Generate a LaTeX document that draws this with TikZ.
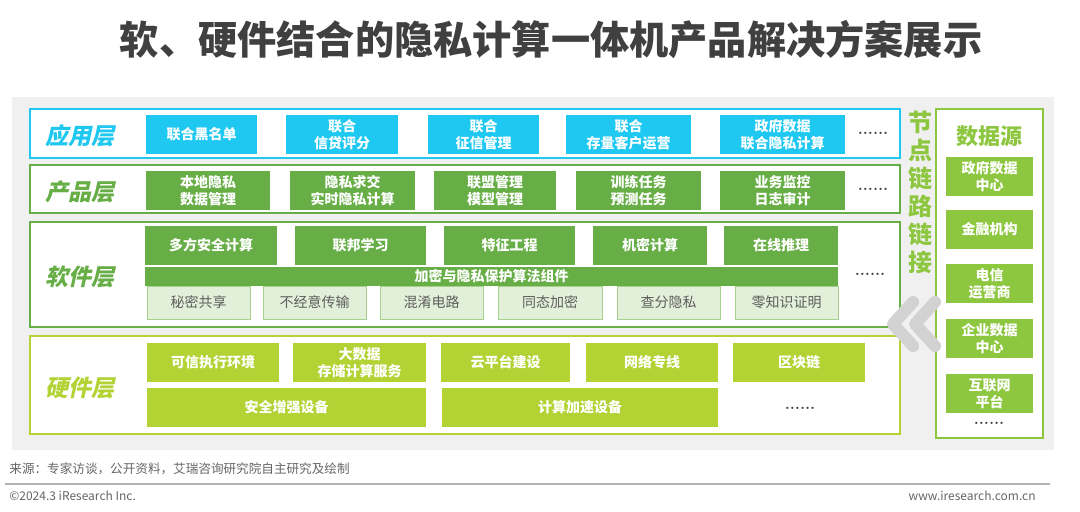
\documentclass[tikz,border=0pt]{standalone}
\usepackage{fontspec}
\newfontfamily\cjk{Noto Sans CJK SC}
\newfontfamily\cjksl[FakeSlant=0.22]{Noto Sans CJK SC}
\definecolor{cyanc}{HTML}{1FC8F1}
\definecolor{grn}{HTML}{66AE45}
\definecolor{lgrn}{HTML}{E2F0D9}
\definecolor{lgrnb}{HTML}{A9D18E}
\definecolor{lime}{HTML}{B3D335}
\definecolor{src}{HTML}{8DC63F}
\definecolor{panel}{HTML}{F0F0F0}
\definecolor{dark}{HTML}{404040}
\definecolor{chev}{HTML}{D2D2D2}
\tikzset{
  base/.style={inner sep=0pt, outer sep=0pt, align=center, text=white,
    font=\cjk\bfseries\fontsize{7}{8.5}\selectfont},
  appbox/.style={base, fill=cyanc},
  prodbox/.style={base, fill=grn},
  lightbox/.style={base, fill=lgrn, draw=lgrnb, line width=0.5pt, text=dark!85,
    font=\cjk\fontsize{7}{8.5}\selectfont},
  hwbox/.style={base, fill=lime},
  srcbox/.style={base, fill=src},
  layer/.style={inner sep=0pt, outer sep=0pt, fill=white, line width=0.9pt},
  laylabel/.style={font=\cjksl\bfseries\fontsize{11.5}{12}\selectfont},
  dots/.style={text=dark, font=\bfseries\fontsize{7}{8}\selectfont},
  chevline/.style={draw=chev, line width=6pt, line cap=round, line join=round},
}
\newcommand\bx[7]{\node[#1, minimum width={(#4-#2)*0.5pt}, minimum height={(#5-#3)*0.5pt}] (#7) at ({(#2+#4)/2},{(#3+#5)/2}) {#6};}
\begin{document}
\begin{tikzpicture}[x=0.5pt,y=-0.5pt]
\useasboundingbox[fill=white] (0,0) rectangle (1080,511);
% title
\node[text=dark, font=\cjk\bfseries\fontsize{19.6}{21}\selectfont] (title) at (551,40) {软、硬件结合的隐私计算一体机产品解决方案展示};
% gray panel
\bx{fill=panel, inner sep=0pt}{12}{97}{1054}{450}{}{panelbg}
% layers
\bx{layer, draw=cyanc}{30}{109}{900}{158}{}{applayer}
\bx{layer, draw=grn}{30}{165}{900}{213}{}{prodlayer}
\bx{layer, draw=grn}{30}{222}{900}{327}{}{swlayer}
\bx{layer, draw=lime}{30}{336}{900}{434}{}{hwlayer}
\node[laylabel, text=cyanc] (lapp) at (80,136) {应用层};
\node[laylabel, text=grn] (lprod) at (80,192) {产品层};
\node[laylabel, text=grn] (lsw) at (80,277) {软件层};
\node[laylabel, text=lime] (lhw) at (80,388) {硬件层};
% application
\bx{appbox}{146}{115}{257}{154}{联合黑名单}{a1}
\bx{appbox}{286}{115}{398}{154}{联合\\信贷评分}{a2}
\bx{appbox}{428}{115}{539}{154}{联合\\征信管理}{a3}
\bx{appbox}{566}{115}{691}{154}{联合\\存量客户运营}{a4}
\bx{appbox}{720}{115}{845}{154}{政府数据\\联合隐私计算}{a5}
\node[dots] (adots) at (873,133) {......};
% product
\bx{prodbox}{146}{171}{270}{210}{本地隐私\\数据管理}{p1}
\bx{prodbox}{290}{171}{415}{210}{隐私求交\\实时隐私计算}{p2}
\bx{prodbox}{434}{171}{556}{210}{联盟管理\\模型管理}{p3}
\bx{prodbox}{576}{171}{701}{210}{训练任务\\预测任务}{p4}
\bx{prodbox}{720}{171}{845}{210}{业务监控\\日志审计}{p5}
\node[dots] (pdots) at (873,189) {......};
% software
\bx{prodbox}{145}{226}{277}{265}{多方安全计算}{s1}
\bx{prodbox}{295}{226}{426}{265}{联邦学习}{s2}
\bx{prodbox}{444}{226}{575}{265}{特征工程}{s3}
\bx{prodbox}{593}{226}{707}{265}{机密计算}{s4}
\bx{prodbox}{724}{226}{838}{265}{在线推理}{s5}
\bx{prodbox}{145}{267}{838}{286}{加密与隐私保护算法组件}{sbar}
\bx{lightbox}{147}{286}{250}{319}{秘密共享}{c1}
\bx{lightbox}{263}{286}{366}{319}{不经意传输}{c2}
\bx{lightbox}{380}{286}{483}{319}{混淆电路}{c3}
\bx{lightbox}{498}{286}{602}{319}{同态加密}{c4}
\bx{lightbox}{617}{286}{720}{319}{查分隐私}{c5}
\bx{lightbox}{735}{286}{838}{319}{零知识证明}{c6}
\node[dots] (sdots) at (870,274) {......};
% hardware
\bx{hwbox}{147}{343}{279}{382}{可信执行环境}{h1}
\bx{hwbox}{293}{343}{426}{382}{大数据\\存储计算服务}{h2}
\bx{hwbox}{441}{343}{570}{382}{云平台建设}{h3}
\bx{hwbox}{586}{343}{718}{382}{网络专线}{h4}
\bx{hwbox}{733}{343}{865}{382}{区块链}{h5}
\bx{hwbox}{147}{388}{426}{427}{安全增强设备}{h6}
\bx{hwbox}{442}{388}{718}{427}{计算加速设备}{h7}
\node[dots] (hdots) at (800,408) {......};
% vertical text
\node[text=src, align=center, font=\cjk\bfseries\fontsize{12}{14}\selectfont] (vtext) at (920,192) {节\\点\\链\\路\\链\\接};
% data source column
\bx{layer, draw=src}{936}{109}{1043}{438}{}{srccol}
\node[text=src, font=\cjk\bfseries\fontsize{11}{12}\selectfont] (srctitle) at (989,136) {数据源};
\bx{srcbox}{946}{157}{1033}{196}{政府数据\\中心}{d1}
\bx{srcbox}{946}{210}{1033}{249}{金融机构}{d2}
\bx{srcbox}{946}{264}{1033}{303}{电信\\运营商}{d3}
\bx{srcbox}{946}{319}{1033}{358}{企业数据\\中心}{d4}
\bx{srcbox}{946}{374}{1033}{413}{互联网\\平台}{d5}
\node[dots] (ddots) at (989,423) {......};
% chevrons
\coordinate (ch1a) at (913,302); \coordinate (ch1b) at (893,324); \coordinate (ch1c) at (913,346);
\coordinate (ch2a) at (935,302); \coordinate (ch2b) at (915,324); \coordinate (ch2c) at (935,346);
\draw[chevline] (ch1a) -- (ch1b) -- (ch1c);
\draw[chevline] (ch2a) -- (ch2b) -- (ch2c);
% footer
\node[anchor=west, text=dark!80, font=\cjk\fontsize{6.3}{7}\selectfont, inner sep=0pt] (source) at (9,469) {来源：专家访谈，公开资料，艾瑞咨询研究院自主研究及绘制};
\coordinate (fl1) at (5,484); \coordinate (fl2) at (1050,484);
\draw[gray!60, line width=0.8pt] (fl1) -- (fl2);
\node[anchor=west, text=dark!80, font=\cjk\fontsize{6}{7}\selectfont, inner sep=0pt] (copy) at (9,496) {©2024.3 iResearch Inc.};
\node[anchor=east, text=dark!80, font=\cjk\fontsize{6}{7}\selectfont, inner sep=0pt] (web) at (1036,496) {www.iresearch.com.cn};
\end{tikzpicture}
\end{document}
